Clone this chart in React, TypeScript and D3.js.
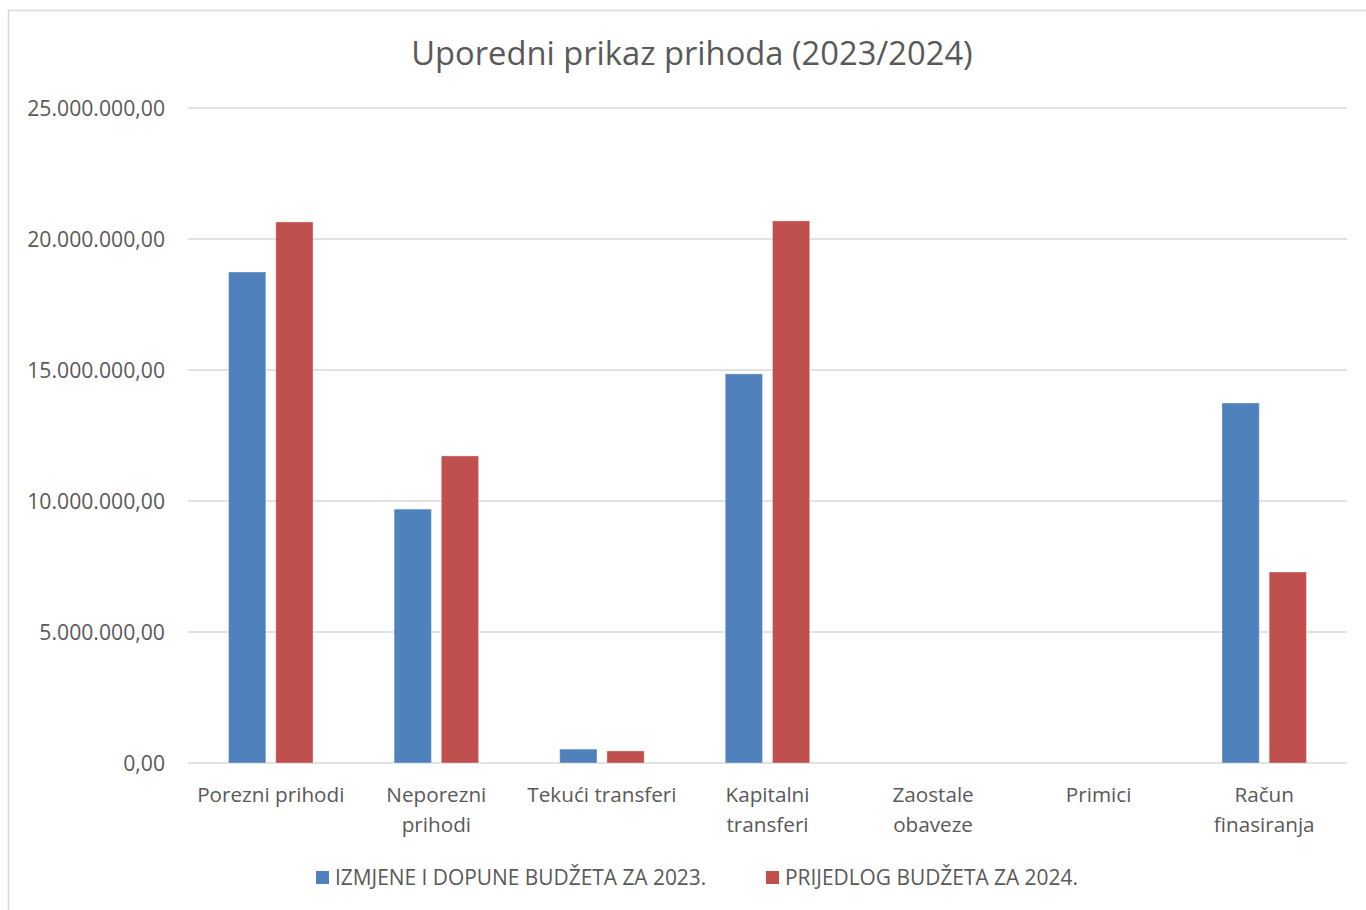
import { useEffect, useRef } from 'react';
import * as d3 from 'd3';

const categories = [
  ['Porezni prihodi'],
  ['Neporezni', 'prihodi'],
  ['Tekući transferi'],
  ['Kapitalni', 'transferi'],
  ['Zaostale', 'obaveze'],
  ['Primici'],
  ['Račun', 'finasiranja'],
];
const seriesNames = ['IZMJENE I DOPUNE BUDŽETA ZA 2023.', 'PRIJEDLOG BUDŽETA ZA 2024.'];
const values2023 = [18740000, 9690000, 530000, 14850000, 0, 0, 13740000];
const values2024 = [20650000, 11720000, 460000, 20690000, 0, 0, 7290000];
const yTicks = [0, 5000000, 10000000, 15000000, 20000000, 25000000];

const COLORS = ['#4F81BD', '#C0504D'];
const TEXT = '#595959';
const GRID = '#d9d9d9';
const FONT = '"Open Sans", sans-serif';

const fmt = (v: number) =>
  d3.format(',.2f')(v).replace(/,/g, '#').replace('.', ',').replace(/#/g, '.');

export default function App() {
  const svgRef = useRef<SVGSVGElement>(null);

  useEffect(() => {
    const svg = d3.select(svgRef.current);
    svg.selectAll('*').remove();

    const W = 1366, H = 910;
    const left = 188, right = 1347, top = 108, bottom = 763;

    svg.append('rect').attr('width', W).attr('height', H).attr('fill', '#fff');
    // chart frame
    svg.append('rect')
      .attr('x', 8.5).attr('y', 10.5)
      .attr('width', 1400).attr('height', 1000)
      .attr('fill', 'none').attr('stroke', GRID).attr('stroke-width', 1.5);

    const keys = categories.map(c => c.join(' '));
    const x0 = d3.scaleBand<string>().domain(keys).range([left, right])
      .paddingInner(0.49).paddingOuter(0.245);
    const x1 = d3.scaleBand<number>().domain([0, 1]).range([0, x0.bandwidth()])
      .paddingInner(0.21);
    const y = d3.scaleLinear().domain([0, 25000000]).range([bottom, top]);

    // grid
    yTicks.forEach(t => {
      svg.append('line')
        .attr('x1', left).attr('x2', right)
        .attr('y1', y(t)).attr('y2', y(t))
        .attr('stroke', GRID).attr('stroke-width', 1.5);
      svg.append('text')
        .attr('x', 165).attr('y', y(t))
        .attr('dy', '0.36em')
        .attr('text-anchor', 'end')
        .attr('font-family', FONT).attr('font-size', 21.2)
        .attr('fill', TEXT)
        .text(fmt(t));
    });

    // bars
    const series = [values2023, values2024];
    series.forEach((vals, si) => {
      svg.append('g').selectAll('rect')
        .data(vals)
        .enter()
        .append('rect')
        .attr('x', (_, i) => (x0(keys[i]) as number) + (x1(si) as number))
        .attr('y', d => y(d))
        .attr('width', x1.bandwidth())
        .attr('height', d => bottom - y(d))
        .attr('fill', COLORS[si])
        .attr('stroke', d => (d > 0 ? 'rgba(255,255,255,0.35)' : 'none'))
        .attr('stroke-width', 1);
    });

    // category labels
    categories.forEach((lines, i) => {
      const cx = (x0(keys[i]) as number) + x0.bandwidth() / 2;
      lines.forEach((ln, li) => {
        svg.append('text')
          .attr('x', cx).attr('y', 802 + li * 30)
          .attr('text-anchor', 'middle')
          .attr('font-family', FONT).attr('font-size', 20.7)
          .attr('fill', TEXT)
          .text(ln);
      });
    });

    // title
    svg.append('text')
      .attr('x', 692).attr('y', 65)
      .attr('text-anchor', 'middle')
      .attr('font-family', FONT).attr('font-size', 32.7)
      .attr('fill', TEXT)
      .text('Uporedni prikaz prihoda (2023/2024)');

    // legend
    const legendX = [316, 766];
    seriesNames.forEach((name, si) => {
      svg.append('rect')
        .attr('x', legendX[si]).attr('y', 871)
        .attr('width', 13).attr('height', 13)
        .attr('fill', COLORS[si]);
      svg.append('text')
        .attr('x', legendX[si] + 19).attr('y', 885)
        .attr('font-family', FONT).attr('font-size', 20.9)
        .attr('fill', TEXT)
        .text(name);
    });
  }, []);

  return (
    <svg
      ref={svgRef}
      width={1366}
      height={910}
      style={{ position: 'absolute', left: 0, top: 0, display: 'block' }}
    />
  );
}
